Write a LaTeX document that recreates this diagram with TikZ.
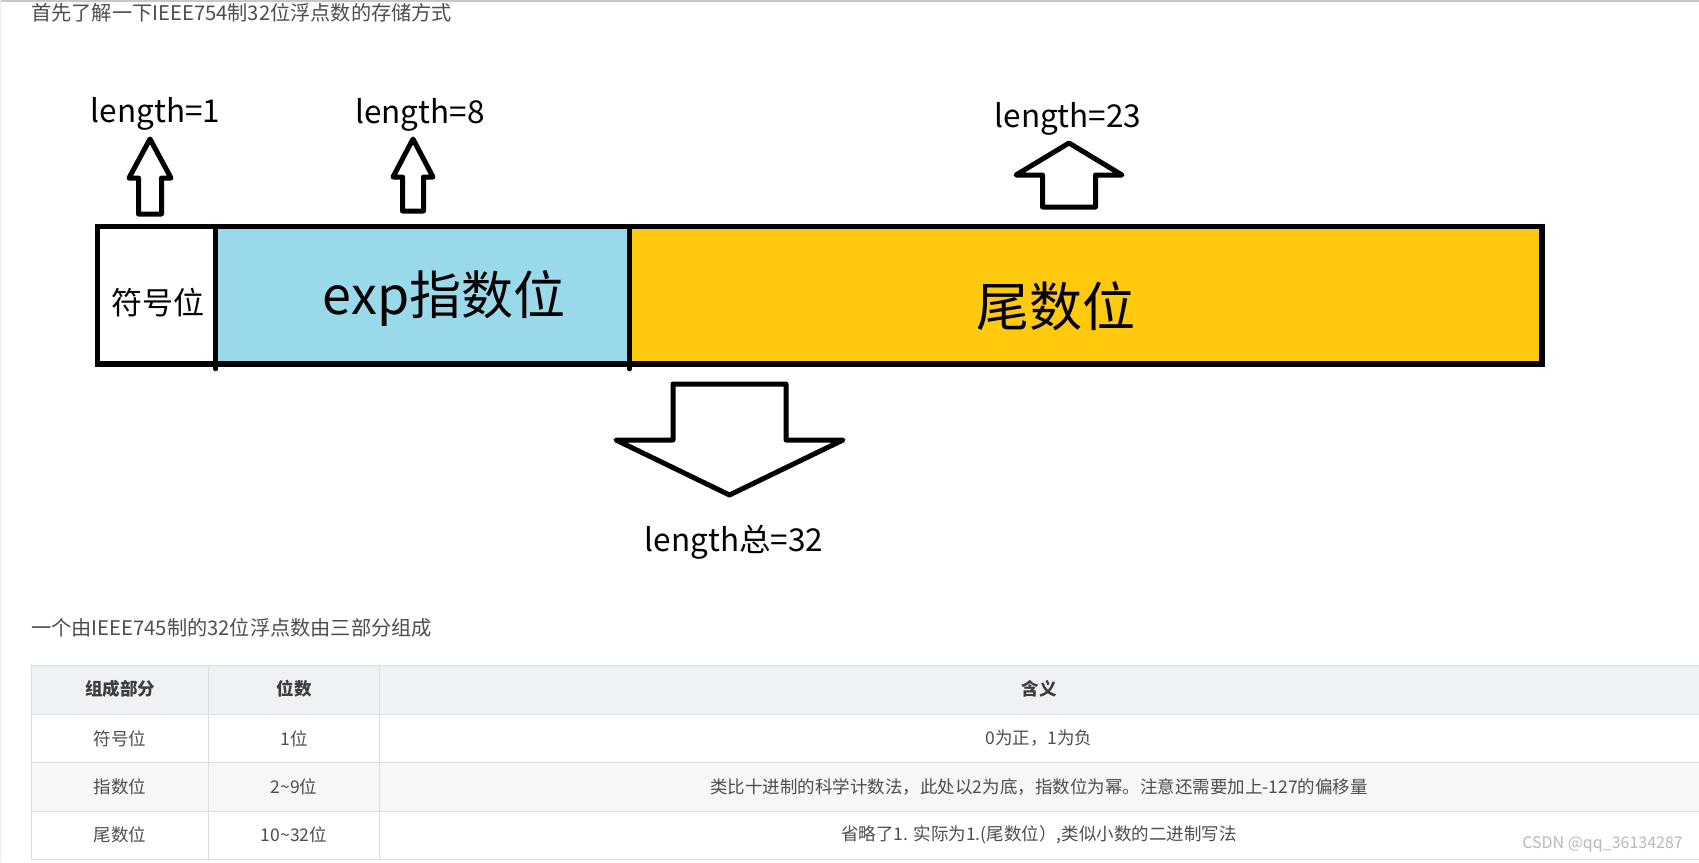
\documentclass[tikz,border=0pt]{standalone}
\usepackage{fontspec}
\setmainfont{Noto Sans CJK SC}
\definecolor{expblue}{RGB}{153,217,234}
\definecolor{mantgold}{RGB}{255,201,14}
\definecolor{pagegray}{RGB}{77,77,77}
\definecolor{hdrgray}{RGB}{239,242,245}
\definecolor{rowgray}{RGB}{247,247,247}
\definecolor{bordergray}{RGB}{221,221,221}
\definecolor{wmgray}{RGB}{185,185,185}
\definecolor{topline}{RGB}{200,200,200}
\begin{document}
\begin{tikzpicture}[x=1pt,y=-1pt,
  lbl/.style={font=\fontsize{31.5}{36}\selectfont, text=black, inner sep=0pt},
  bigarrow/.style={draw=black, line width=5pt, fill=white, line join=round},
  pagetext/.style={font=\fontsize{20.2}{24}\selectfont, text=pagegray, inner sep=0pt},
  cell/.style={font=\fontsize{17.5}{21}\selectfont, text=pagegray, inner sep=0pt},
  hcell/.style={font=\fontsize{17.5}{21}\selectfont\bfseries, text=pagegray!80!black, inner sep=0pt},
  grid/.style={draw=bordergray, line width=1.4pt}]
\useasboundingbox (0,0) rectangle (1699,862);
\fill[white] (0,0) rectangle (1699,862);
% page borders
\draw[topline, line width=2pt] (0,1) -- (1699,1);
\draw[bordergray!60, line width=1pt] (0.5,0) -- (0.5,862);
% page text
\node[pagetext, anchor=west] (intro) at (31,13) {首先了解一下IEEE754制32位浮点数的存储方式};
% bar
\fill[white] (97.5,226.5) rectangle (215.6,364);
\fill[expblue] (215.6,226.5) rectangle (629.5,364);
\fill[mantgold] (629.5,226.5) rectangle (1542,364);
\draw[line width=5.3pt] (97.5,226.5) rectangle (1542,364);
\draw[line width=4.5pt, line cap=round] (215.6,226.5) -- (215.6,369);
\draw[line width=4.5pt, line cap=round] (629.5,226.5) -- (629.5,369);
\node[font=\fontsize{31}{36}\selectfont, inner sep=0pt] (sign) at (157.5,302.5) {符号位};
\node[font=\fontsize{52}{60}\selectfont, inner sep=0pt] (expo) at (444,298) {exp指数位};
\node[font=\fontsize{53}{60}\selectfont, inner sep=0pt] (mant) at (1056,306.5) {尾数位};
% up arrows
\draw[bigarrow] (138.5,214) -- (138.5,178) -- (129,178) -- (150,139) -- (171,178) -- (161.5,178) -- (161.5,214) -- cycle;
\draw[bigarrow] (402.5,211) -- (402.5,177) -- (393,177) -- (413,139) -- (433,177) -- (423.5,177) -- (423.5,211) -- cycle;
\draw[bigarrow] (1042.5,207) -- (1042.5,175) -- (1016,175) -- (1069,143) -- (1122,175) -- (1095.5,175) -- (1095.5,207) -- cycle;
% down arrow
\draw[bigarrow] (673,384) -- (786,384) -- (786,440) -- (843,440) -- (729.5,495) -- (616,440) -- (673,440) -- cycle;
% labels
\node[lbl, anchor=base] (l1) at (155.5,122.7) {length=1};
\node[lbl, anchor=base] (l8) at (420,123.3) {length=8};
\node[lbl, anchor=base] (l23) at (1068,127.7) {length=23};
\node[lbl, anchor=base] (l32) at (734,551.7) {length总=32};
% second text
\node[pagetext, anchor=west] (intro2) at (31,628.3) {一个由IEEE745制的32位浮点数由三部分组成};
% table
\fill[hdrgray] (31.4,665.7) rectangle (1699,714.3);
\fill[rowgray] (31.4,762.7) rectangle (1699,811.3);
\foreach \yy in {665.7,714.3,762.7,811.3,859.3} \draw[grid] (31.4,\yy) -- (1699,\yy);
\foreach \xx in {31.4,208.6,379.3} \draw[grid] (\xx,665.7) -- (\xx,859.3);
\node[hcell] (h1) at (120,689) {组成部分};
\node[hcell] (h2) at (294,689) {位数};
\node[hcell] (h3) at (1039,689) {含义};
\node[cell] (a1) at (120,738.5) {符号位};
\node[cell] (a2) at (294,738.5) {1位};
\node[cell] (a3) at (1039,738.5) {0为正，1为负};
\node[cell] (b1) at (120,787) {指数位};
\node[cell] (b2) at (294,787) {2\textasciitilde{}9位};
\node[cell] (b3) at (1039,787) {类比十进制的科学计数法，此处以2为底，指数位为幂。注意还需要加上-127的偏移量};
\node[cell] (c1) at (120,835) {尾数位};
\node[cell] (c2) at (294,835) {10\textasciitilde{}32位};
\node[cell] (c3) at (1039,835) {省略了1. 实际为1.(尾数位）,类似小数的二进制写法};
\node[font=\fontsize{16}{19}\selectfont, text=wmgray, inner sep=0pt, anchor=east] (wm) at (1683,844) {CSDN @qq\_36134287};
\end{tikzpicture}
\end{document}
